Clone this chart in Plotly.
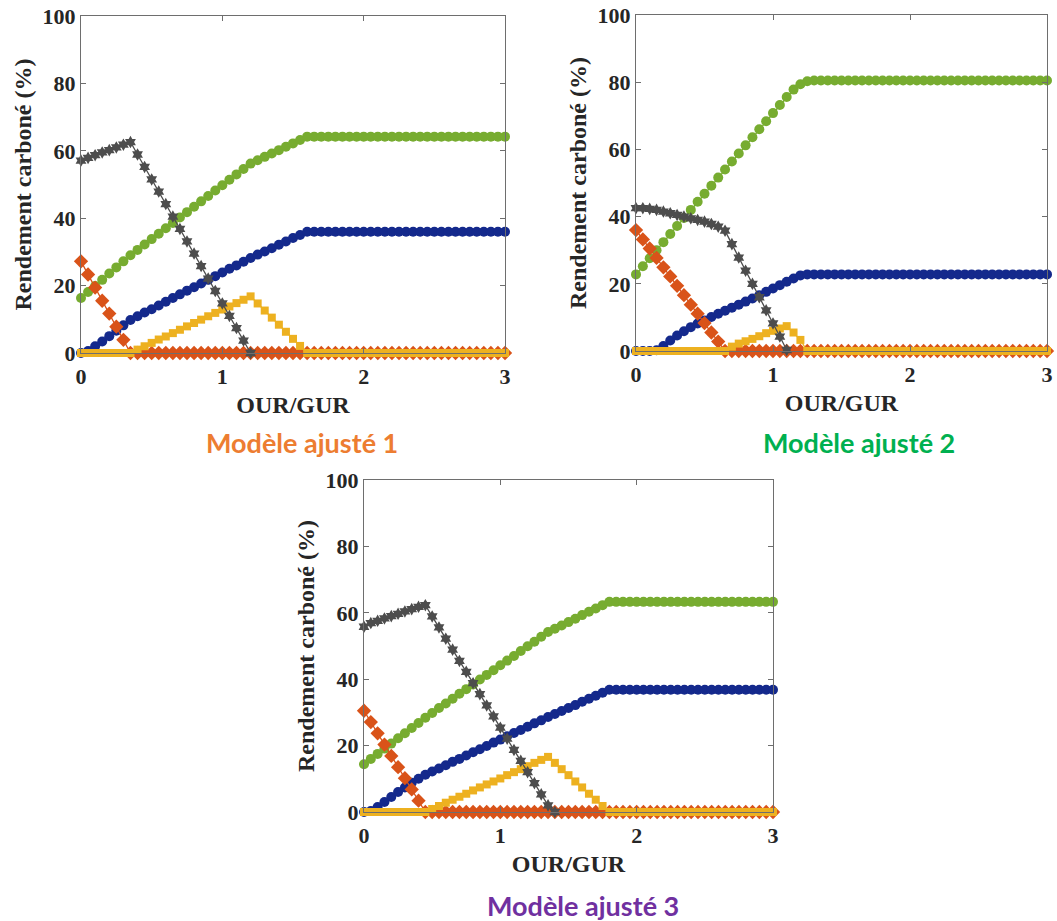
import plotly.graph_objects as go

# ---------------- data ----------------
X = [0.0, 0.05, 0.1, 0.15, 0.2, 0.25, 0.3, 0.35, 0.4, 0.45,
     0.5, 0.55, 0.6, 0.65, 0.7, 0.75, 0.8, 0.85, 0.9, 0.95,
     1.0, 1.05, 1.1, 1.15, 1.2, 1.25, 1.3, 1.35, 1.4, 1.45,
     1.5, 1.55, 1.6, 1.65, 1.7, 1.75, 1.8, 1.85, 1.9, 1.95,
     2.0, 2.05, 2.1, 2.15, 2.2, 2.25, 2.3, 2.35, 2.4, 2.45,
     2.5, 2.55, 2.6, 2.65, 2.7, 2.75, 2.8, 2.85, 2.9, 2.95,
     3.0]

# Modèle ajusté 1
green_1 = [16.3, 18.1, 19.9, 21.7, 23.6, 25.4, 27.2, 29.0, 30.6, 32.2,
           33.8, 35.4, 37.0, 38.6, 40.2, 41.8, 43.4, 45.0, 46.6, 48.2,
           49.8, 51.4, 53.0, 54.6, 56.2, 57.2, 58.2, 59.2, 60.2, 61.2,
           62.2, 63.2, 64.2, 64.2, 64.2, 64.2, 64.2, 64.2, 64.2, 64.2,
           64.2, 64.2, 64.2, 64.2, 64.2, 64.2, 64.2, 64.2, 64.2, 64.2,
           64.2, 64.2, 64.2, 64.2, 64.2, 64.2, 64.2, 64.2, 64.2, 64.2,
           64.2]
blue_1 = [0.0, 0.6, 2.0, 3.4, 5.0, 6.6, 8.2, 9.8, 10.9, 12.0,
          13.0, 14.1, 15.2, 16.3, 17.4, 18.5, 19.5, 20.6, 21.7, 22.8,
          23.9, 25.0, 26.0, 27.1, 28.2, 29.2, 30.1, 31.1, 32.1, 33.1,
          34.1, 35.0, 36.0, 36.0, 36.0, 36.0, 36.0, 36.0, 36.0, 36.0,
          36.0, 36.0, 36.0, 36.0, 36.0, 36.0, 36.0, 36.0, 36.0, 36.0,
          36.0, 36.0, 36.0, 36.0, 36.0, 36.0, 36.0, 36.0, 36.0, 36.0,
          36.0]
grey_1 = [57.1, 57.9, 58.7, 59.5, 60.2, 61.0, 61.8, 62.6, 58.9, 55.2,
          51.5, 47.9, 44.2, 40.5, 36.8, 33.1, 29.5, 25.8, 22.1, 18.4,
          14.7, 11.0, 7.4, 3.7, 0.0]
red_1 = [27.2, 23.3, 19.4, 15.5, 11.7, 7.8, 3.9, 0.0, 0.0, 0.0,
         0.0, 0.0, 0.0, 0.0, 0.0, 0.0, 0.0, 0.0, 0.0, 0.0,
         0.0, 0.0, 0.0, 0.0, 0.0, 0.0, 0.0, 0.0, 0.0, 0.0,
         0.0, 0.0, 0.0, 0.0, 0.0, 0.0, 0.0, 0.0, 0.0, 0.0,
         0.0, 0.0, 0.0, 0.0, 0.0, 0.0, 0.0, 0.0, 0.0, 0.0,
         0.0, 0.0, 0.0, 0.0, 0.0, 0.0, 0.0, 0.0, 0.0, 0.0,
         0.0]
yellow_1 = [0.0, 0.0, 0.0, 0.0, 0.0, 0.0, 0.0, 0.0, 1.0, 2.0,
            3.0, 4.0, 4.9, 5.9, 6.9, 7.9, 8.9, 9.9, 10.9, 11.9,
            12.9, 13.8, 14.8, 15.8, 16.8, 14.7, 12.6, 10.5, 8.4, 6.3,
            4.2, 2.1, 0.0, 0.0, 0.0, 0.0, 0.0, 0.0, 0.0, 0.0,
            0.0, 0.0, 0.0, 0.0, 0.0, 0.0, 0.0, 0.0, 0.0, 0.0,
            0.0, 0.0, 0.0, 0.0, 0.0, 0.0, 0.0, 0.0, 0.0, 0.0,
            0.0]

# Modèle ajusté 2
green_2 = [22.8, 25.2, 27.6, 30.0, 32.4, 34.8, 37.2, 39.6, 42.0, 44.4,
           46.8, 49.2, 51.6, 54.0, 56.4, 58.8, 61.2, 63.6, 66.0, 68.4,
           70.8, 73.2, 75.6, 77.8, 79.4, 80.3, 80.5, 80.5, 80.5, 80.5,
           80.5, 80.5, 80.5, 80.5, 80.5, 80.5, 80.5, 80.5, 80.5, 80.5,
           80.5, 80.5, 80.5, 80.5, 80.5, 80.5, 80.5, 80.5, 80.5, 80.5,
           80.5, 80.5, 80.5, 80.5, 80.5, 80.5, 80.5, 80.5, 80.5, 80.5,
           80.5]
blue_2 = [0.0, 0.0, 0.0, 0.2, 1.5, 3.1, 4.6, 5.9, 7.1, 8.2,
          9.1, 10.1, 11.1, 12.0, 12.9, 13.8, 14.7, 15.6, 16.6, 17.6,
          18.6, 19.6, 20.6, 21.6, 22.5, 22.8, 22.8, 22.8, 22.8, 22.8,
          22.8, 22.8, 22.8, 22.8, 22.8, 22.8, 22.8, 22.8, 22.8, 22.8,
          22.8, 22.8, 22.8, 22.8, 22.8, 22.8, 22.8, 22.8, 22.8, 22.8,
          22.8, 22.8, 22.8, 22.8, 22.8, 22.8, 22.8, 22.8, 22.8, 22.8,
          22.8]
grey_2 = [42.5, 42.5, 42.3, 42.0, 41.5, 41.0, 40.5, 40.0, 39.5, 39.0,
          38.5, 37.8, 37.0, 35.8, 31.8, 27.8, 23.9, 20.0, 16.0, 12.1,
          8.2, 4.3, 0.3]
red_2 = [36.0, 33.2, 30.5, 27.7, 24.9, 22.2, 19.4, 16.6, 13.8, 11.1,
         8.3, 5.5, 2.8, 0.0, 0.0, 0.0, 0.0, 0.0, 0.0, 0.0,
         0.0, 0.0, 0.0, 0.0, 0.0, 0.0, 0.0, 0.0, 0.0, 0.0,
         0.0, 0.0, 0.0, 0.0, 0.0, 0.0, 0.0, 0.0, 0.0, 0.0,
         0.0, 0.0, 0.0, 0.0, 0.0, 0.0, 0.0, 0.0, 0.0, 0.0,
         0.0, 0.0, 0.0, 0.0, 0.0, 0.0, 0.0, 0.0, 0.0, 0.0,
         0.0]
yellow_2 = [0.0, 0.0, 0.0, 0.0, 0.0, 0.0, 0.0, 0.0, 0.0, 0.0,
            0.0, 0.0, 0.0, 0.0, 1.3, 2.2, 2.9, 3.6, 4.4, 5.3,
            6.0, 6.7, 7.4, 5.5, 3.3, 0.0, 0.0, 0.0, 0.0, 0.0,
            0.0, 0.0, 0.0, 0.0, 0.0, 0.0, 0.0, 0.0, 0.0, 0.0,
            0.0, 0.0, 0.0, 0.0, 0.0, 0.0, 0.0, 0.0, 0.0, 0.0,
            0.0, 0.0, 0.0, 0.0, 0.0, 0.0, 0.0, 0.0, 0.0, 0.0,
            0.0]

# Modèle ajusté 3
green_3 = [14.4, 16.0, 17.5, 19.1, 20.6, 22.2, 23.7, 25.3, 26.8, 28.4,
           29.8, 31.3, 32.7, 34.1, 35.6, 37.0, 38.4, 39.9, 41.3, 42.7,
           44.2, 45.6, 47.0, 48.5, 49.9, 51.3, 52.8, 54.2, 55.2, 56.2,
           57.2, 58.2, 59.3, 60.3, 61.3, 62.3, 63.3, 63.3, 63.3, 63.3,
           63.3, 63.3, 63.3, 63.3, 63.3, 63.3, 63.3, 63.3, 63.3, 63.3,
           63.3, 63.3, 63.3, 63.3, 63.3, 63.3, 63.3, 63.3, 63.3, 63.3,
           63.3]
blue_3 = [0.0, 0.3, 1.5, 3.0, 4.5, 6.0, 7.4, 8.8, 10.0, 11.2,
          12.2, 13.1, 14.1, 15.1, 16.0, 17.0, 18.0, 18.9, 19.9, 20.9,
          21.8, 22.8, 23.8, 24.7, 25.7, 26.7, 27.6, 28.6, 29.5, 30.4,
          31.3, 32.2, 33.2, 34.1, 35.0, 35.9, 36.8, 36.8, 36.8, 36.8,
          36.8, 36.8, 36.8, 36.8, 36.8, 36.8, 36.8, 36.8, 36.8, 36.8,
          36.8, 36.8, 36.8, 36.8, 36.8, 36.8, 36.8, 36.8, 36.8, 36.8,
          36.8]
grey_3 = [55.8, 56.9, 57.6, 58.3, 59.0, 59.7, 60.4, 61.1, 61.8, 62.3,
          58.9, 55.6, 52.2, 48.9, 45.5, 42.2, 38.8, 35.5, 32.1, 28.8,
          25.4, 22.1, 18.7, 15.4, 12.0, 8.7, 5.3, 2.0, 0.0]
red_3 = [30.5, 27.1, 23.7, 20.3, 16.9, 13.5, 10.2, 6.8, 3.4, 0.0,
         0.0, 0.0, 0.0, 0.0, 0.0, 0.0, 0.0, 0.0, 0.0, 0.0,
         0.0, 0.0, 0.0, 0.0, 0.0, 0.0, 0.0, 0.0, 0.0, 0.0,
         0.0, 0.0, 0.0, 0.0, 0.0, 0.0, 0.0, 0.0, 0.0, 0.0,
         0.0, 0.0, 0.0, 0.0, 0.0, 0.0, 0.0, 0.0, 0.0, 0.0,
         0.0, 0.0, 0.0, 0.0, 0.0, 0.0, 0.0, 0.0, 0.0, 0.0,
         0.0]
yellow_3 = [0.0, 0.0, 0.0, 0.0, 0.0, 0.0, 0.0, 0.0, 0.0, 0.0,
            0.9, 1.8, 2.8, 3.7, 4.6, 5.5, 6.5, 7.4, 8.3, 9.2,
            10.1, 11.1, 12.0, 12.9, 13.8, 14.8, 15.7, 16.6, 14.8, 12.9,
            11.1, 9.2, 7.4, 5.5, 3.7, 1.8, 0.0, 0.0, 0.0, 0.0,
            0.0, 0.0, 0.0, 0.0, 0.0, 0.0, 0.0, 0.0, 0.0, 0.0,
            0.0, 0.0, 0.0, 0.0, 0.0, 0.0, 0.0, 0.0, 0.0, 0.0,
            0.0]

panel_titles = ["Modèle ajusté 1", "Modèle ajusté 2", "Modèle ajusté 3"]
panel_title_colors = ["#ED7D31", "#00B050", "#7030A0"]
x_title = "OUR/GUR"
y_title = "Rendement carboné (%)"
x_ticks = [0, 1, 2, 3]
y_ticks = [0, 20, 40, 60, 80, 100]

panels = [
    dict(blue=blue_1, green=green_1, red=red_1, yellow=yellow_1, grey=grey_1),
    dict(blue=blue_2, green=green_2, red=red_2, yellow=yellow_2, grey=grey_2),
    dict(blue=blue_3, green=green_3, red=red_3, yellow=yellow_3, grey=grey_3),
]

for p in panels:
    for k in ("blue", "green", "red", "yellow"):
        if len(p[k]) != len(X):
            raise ValueError(f"length mismatch {k}: {len(p[k])}")

# ---------------- style ----------------
styles = {
    "blue":   dict(color="#14298C", symbol="circle", size=10),
    "green":  dict(color="#77AC30", symbol="circle", size=10),
    "red":    dict(color="#D95319", symbol="diamond", size=11),
    "yellow": dict(color="#EDB120", symbol="square", size=8),
    "grey":   dict(color="#4D4D4D", symbol="hexagram", size=9.5),
}
order = ["blue", "green", "red", "yellow", "grey"]

W, H = 1057, 921
def px_dom_x(a, b):
    return [a / W, b / W]
def px_dom_y(top, bottom):
    return [1 - bottom / H, 1 - top / H]

domains = [
    (px_dom_x(81, 505), px_dom_y(16, 353)),
    (px_dom_x(636, 1047), px_dom_y(15, 351)),
    (px_dom_x(364, 773), px_dom_y(480, 812)),
]
title_pos = [(302, 442), (859, 442), (583, 905)]

fig = go.Figure()
for i, p in enumerate(panels):
    xa = "x" if i == 0 else f"x{i+1}"
    ya = "y" if i == 0 else f"y{i+1}"
    for k in order:
        vals = p[k]
        st = styles[k]
        fig.add_trace(go.Scatter(
            x=X[:len(vals)], y=vals, xaxis=xa, yaxis=ya,
            mode="lines+markers",
            line=dict(color=st["color"], width=1.3),
            marker=dict(color=st["color"], symbol=st["symbol"], size=st["size"],
                        line=dict(width=0)),
            cliponaxis=False, showlegend=False, hoverinfo="skip",
        ))

tickfont = dict(family="Liberation Serif", size=22, color="#262626", weight="bold")
titlefont = dict(family="Liberation Serif", size=24, color="#262626", weight="bold")

layout = dict(
    width=W, height=H,
    paper_bgcolor="white", plot_bgcolor="white",
    margin=dict(l=0, r=0, t=0, b=0),
    showlegend=False,
    annotations=[],
)
for i in range(3):
    sx = "" if i == 0 else str(i + 1)
    dx, dy = domains[i]
    layout["xaxis" + sx] = dict(
        domain=dx, anchor="y" + sx, range=[0, 3], tickvals=x_ticks,
        showline=True, linecolor="#6E6E6E", linewidth=1, mirror="allticks",
        ticks="inside", ticklen=5, tickcolor="#6E6E6E",
        showgrid=False, zeroline=False, tickfont=tickfont, automargin=False,
        ticklabelstandoff=4,
        title=dict(text=x_title, font=titlefont, standoff=7),
    )
    layout["yaxis" + sx] = dict(
        domain=dy, anchor="x" + sx, range=[0, 100], tickvals=y_ticks,
        showline=True, linecolor="#6E6E6E", linewidth=1, mirror="allticks",
        ticks="inside", ticklen=5, tickcolor="#6E6E6E",
        showgrid=False, zeroline=False, tickfont=tickfont, automargin=False,
        ticklabelstandoff=0,
        title=dict(text=y_title, font=titlefont, standoff=4),
    )
    tx, ty = title_pos[i]
    layout["annotations"].append(dict(
        text=panel_titles[i], x=tx / W, y=1 - ty / H, xref="paper", yref="paper",
        xanchor="center", yanchor="middle", showarrow=False,
        font=dict(family="Lato", size=27, color=panel_title_colors[i], weight="bold"),
    ))

fig.update_layout(**layout)
fig.write_html("out.html",
               config={"displayModeBar": False, "staticPlot": True},
               post_script="document.body.style.margin='0';document.body.style.overflow='hidden';")
